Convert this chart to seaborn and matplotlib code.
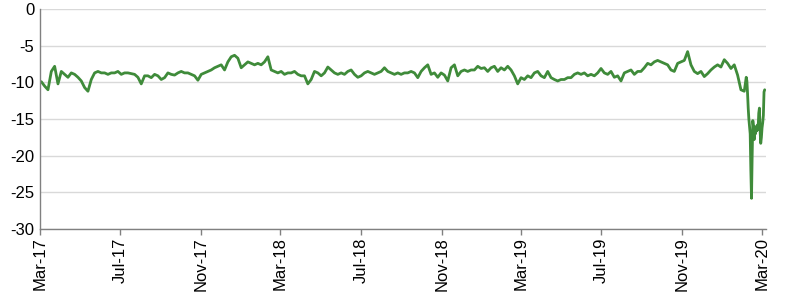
import matplotlib
matplotlib.use("Agg")
import matplotlib.pyplot as plt
import seaborn as sns
import pandas as pd

# ---- data (roughly every 5 days, then daily for the sell-off) ----
periodic_first = "2017-03-03"
periodic_last = "2020-02-03"
values_2017 = [
    -9.9, -10.5, -11.0, -8.5, -7.8, -10.2, -8.5, -8.9, -9.3, -8.7,
    -8.9, -9.3, -9.8, -10.7, -11.2, -9.6, -8.7, -8.5, -8.7, -8.7,
    -8.9, -8.7, -8.7, -8.5, -8.9, -8.7,
    -8.7, -8.8, -8.9, -9.3, -10.2, -9.1, -9.1, -9.35, -8.9, -9.1,
    -9.6, -9.35, -8.7, -8.9, -9.0, -8.7, -8.5, -8.7, -8.7, -8.9,
    -9.1, -9.7, -8.9, -8.7, -8.5, -8.3, -8.0,
]
values_2018 = [
    -7.8, -7.6, -8.3, -7.2, -6.5, -6.3, -6.7, -8.0, -7.6, -7.2,
    -7.4, -7.6, -7.4, -7.6, -7.2, -6.5, -8.3, -8.5, -8.7, -8.5,
    -8.9, -8.7, -8.7, -8.5, -8.9, -9.1, -9.1,
    -10.2, -9.6, -8.5, -8.7, -9.1, -8.7, -7.9, -8.3, -8.7, -8.9,
    -8.7, -8.9, -8.5, -8.3, -8.9, -9.3, -9.1, -8.7, -8.5, -8.7,
    -8.9, -8.7, -8.5, -8.0, -8.5, -8.7, -8.9,
    -8.7, -8.9, -8.7, -8.7, -8.5, -8.7, -9.35, -8.5, -8.0, -7.6,
    -8.9, -8.7, -9.3, -8.7, -9.0, -9.8, -8.0, -7.6, -9.1, -8.5,
    -8.3, -8.5, -8.3, -8.3, -7.8, -8.1, -8.0,
]
values_2019 = [
    -8.5, -8.0, -7.8, -8.5, -8.0, -8.3, -7.8, -8.3, -9.1, -10.2,
    -9.35, -9.6, -9.1, -9.35, -8.7, -8.5, -9.1, -9.35, -8.5, -9.35,
    -9.6, -9.8, -9.6, -9.6, -9.35, -9.35, -8.9,
    -8.7, -8.9, -8.7, -9.1, -8.9, -9.1, -8.7, -8.1, -8.7, -8.9,
    -8.5, -9.3, -9.1, -9.8, -8.7, -8.5, -8.3, -8.9, -8.5, -8.5,
    -8.0, -7.4, -7.6, -7.2, -7.0, -7.2, -7.4,
    -7.6, -8.3, -8.5, -7.4, -7.2, -7.0, -5.8, -7.6, -8.5, -8.8,
    -8.5, -9.2, -8.8, -8.3, -7.9, -7.6, -7.9, -6.9, -7.4, -8.1,
    -7.6, -9.0, -11.0, -11.2,
]
daily_first = "2020-02-06"
values_daily = [
    -9.3, -9.8, -11.5, -13.5, -15.0, -16.0, -17.0, -22.0, -25.8, -20.0,
    -15.2, -16.0, -17.8, -16.0, -17.0, -16.3, -16.6, -15.8, -16.4, -14.2,
    -13.5, -16.5, -18.3, -17.5, -16.2, -15.5, -14.5, -11.3, -11.0,
]
y_ticks = [0, -5, -10, -15, -20, -25, -30]
x_tick_first = "2017-03-01"
x_tick_last = "2020-03-01"

periodic_values = values_2017 + values_2018 + values_2019
dates = list(pd.date_range(periodic_first, periodic_last, periods=len(periodic_values))) + \
        list(pd.date_range(daily_first, periods=len(values_daily), freq="D"))
df = pd.DataFrame({"date": dates, "value": periodic_values + values_daily})

# ---- plot ----
sns.set_theme(style="white")
plt.rcParams["font.family"] = ["Liberation Sans", "DejaVu Sans"]

fig = plt.figure(figsize=(8, 2.93), dpi=100)
ax = fig.add_axes([0.05, 0.218, 0.9075, 0.751])

sns.lineplot(data=df, x="date", y="value", ax=ax, color="#3f8b3a", linewidth=2.0)

ax.set_ylim(-30, 0)
ax.set_yticks(y_ticks)
ax.set_yticklabels([str(t) for t in y_ticks], fontsize=12, color="#000000")

xt = pd.date_range(x_tick_first, x_tick_last, freq="4MS")
ax.set_xticks(xt)
ax.set_xticklabels([d.strftime("%b-%y") for d in xt], rotation=90, fontsize=12, color="#000000")
ax.set_xlim(pd.Timestamp("2017-03-01"), pd.Timestamp("2020-03-07"))

ax.set_xlabel("")
ax.set_ylabel("")
ax.yaxis.grid(True, color="#d9d9d9", linewidth=1)
ax.xaxis.grid(False)
ax.set_axisbelow(True)
for s in ["top", "right"]:
    ax.spines[s].set_visible(False)
for s in ["left", "bottom"]:
    ax.spines[s].set_color("#808080")
    ax.spines[s].set_linewidth(1)
ax.tick_params(axis="x", direction="out", length=4, width=1, color="#808080", pad=2, bottom=True)
ax.tick_params(axis="y", length=0, pad=4)

fig.savefig("out.png", dpi=100)
